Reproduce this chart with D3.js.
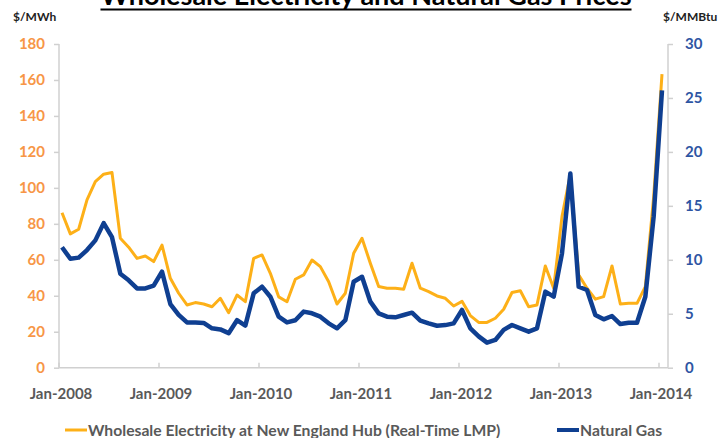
<!DOCTYPE html>
<html>
<head>
<meta charset="utf-8">
<script src="https://cdn.jsdelivr.net/npm/d3@7"></script>
<style>
  body { margin: 0; background: #fff; }
  svg { display: block; font-family: Lato, "Open Sans", sans-serif; }
</style>
</head>
<body>
<script>
// monthly values, Jan-2008 .. Jan-2014
var electricity = [86.2, 74.4, 77, 93.3, 103.5, 107.6, 108.5, 72, 67, 60.8, 62.1, 59,
  68.2, 49.7, 41.4, 34.9, 36.2, 35.4, 33.9, 38.6, 30.6, 40.4, 36.7,
  60.8, 62.7, 52.5, 39.4, 36.7, 49.2, 51.6, 59.9, 56.2, 47.8, 35.4, 41.4,
  63.6, 72.0, 58.1, 45.1, 44.2, 44.2, 43.6, 58.1, 44.2, 42.3, 39.9, 38.6, 34.3,
  36.9, 29, 25.2, 25.2, 27.5, 32.5, 41.8, 42.8, 33.9, 34.9, 56.6, 44.2, 84, 107.5,
  51.6, 44.2, 38.1, 39.5, 56.6, 35.4, 35.8, 35.8, 45.1, 95, 163.3]
var gas = [11.16, 10.1, 10.2, 10.9, 11.8, 13.4, 12.1, 8.7, 8.1, 7.35, 7.35, 7.6,
  8.9, 5.9, 4.9, 4.2, 4.2, 4.15, 3.65, 3.55, 3.2, 4.4, 3.9,
  6.89, 7.51, 6.58, 4.73, 4.2, 4.4, 5.2, 5.04, 4.73, 4.11, 3.65, 4.4,
  7.97, 8.43, 6.12, 5.04, 4.73, 4.67, 4.88, 5.1, 4.36, 4.11, 3.89, 3.95, 4.11,
  5.35, 3.65, 2.9, 2.32, 2.57, 3.5, 3.96, 3.65, 3.34, 3.65, 7.05, 6.58, 10.6, 18.0,
  7.5, 7.2, 4.88, 4.48, 4.79, 4.05, 4.17, 4.17, 6.58, 14.0, 25.7]
var yearLabels = ["Jan-2008", "Jan-2009", "Jan-2010", "Jan-2011", "Jan-2012", "Jan-2013", "Jan-2014"]
var leftTicks = [0, 20, 40, 60, 80, 100, 120, 140, 160, 180]
var rightTicks = [0, 5, 10, 15, 20, 25, 30]
var seriesNames = ["Wholesale Electricity at New England Hub (Real-Time LMP)", "Natural Gas"]

var width = 725, height = 438
var orange = "#FDB018", blue = "#0F3F91"
var axisGrey = "#D0D0D0"

var svg = d3.select("body").append("svg")
  .attr("width", width)
  .attr("height", height)

var plot = { left: 59, right: 668, top: 44, bottom: 367.7 }

var x = d3.scaleLinear().domain([0, 72]).range([62, 662])
var yL = d3.scaleLinear().domain([0, 180]).range([plot.bottom, plot.top])
var yR = d3.scaleLinear().domain([0, 30]).range([plot.bottom, plot.top])

// title (its top is cut off in the original too)
var title = svg.append("text")
  .attr("x", 366)
  .attr("y", 5)
  .attr("text-anchor", "middle")
  .attr("font-size", 27)
  .attr("font-weight", "bold")
  .attr("fill", "#000")
  .text("Wholesale Electricity and Natural Gas Prices")
var tb = title.node().getBBox()
svg.append("rect")
  .attr("x", tb.x).attr("y", 8.5)
  .attr("width", tb.width).attr("height", 2)
  .attr("fill", "#000")

// unit labels
svg.append("text").attr("x", 13).attr("y", 21)
  .attr("font-size", 12).attr("font-weight", "bold").attr("fill", "#222")
  .text("$/MWh")
svg.append("text").attr("x", 663).attr("y", 21)
  .attr("font-size", 12).attr("font-weight", "bold").attr("fill", "#222")
  .text("$/MMBtu")

// left axis
var gL = svg.append("g")
  .attr("transform", "translate(" + plot.left + ",0)")
  .call(d3.axisLeft(yL).tickValues(leftTicks).tickSize(5).tickPadding(9))
gL.selectAll("path, line").attr("stroke", axisGrey).attr("stroke-width", 1.5)
gL.select("path").attr("d", "M0," + plot.top + "V" + plot.bottom)
gL.selectAll("text")
  .attr("fill", "#F79646").attr("font-size", 15).attr("font-weight", "bold")
  .attr("font-family", "Lato, sans-serif")

// right axis
var gR = svg.append("g")
  .attr("transform", "translate(" + plot.right + ",0)")
  .call(d3.axisRight(yR).tickValues(rightTicks).tickSize(5).tickPadding(12))
gR.selectAll("path, line").attr("stroke", axisGrey).attr("stroke-width", 1.5)
gR.select("path").attr("d", "M0," + plot.top + "V" + plot.bottom)
gR.selectAll("text")
  .attr("fill", "#2E55A3").attr("font-size", 15).attr("font-weight", "bold")
  .attr("font-family", "Lato, sans-serif")

// x axis: ticks on year boundaries, labels centred on January
var gX = svg.append("g")
svg.append("line")
  .attr("x1", plot.left).attr("x2", plot.right)
  .attr("y1", plot.bottom).attr("y2", plot.bottom)
  .attr("stroke", axisGrey).attr("stroke-width", 1.5)
gX.selectAll("line.tick")
  .data(yearLabels)
  .enter().append("line")
  .attr("class", "tick")
  .attr("x1", function (d, i) { return x(i * 12 - 0.36) })
  .attr("x2", function (d, i) { return x(i * 12 - 0.36) })
  .attr("y1", plot.bottom - 5)
  .attr("y2", plot.bottom)
  .attr("stroke", axisGrey).attr("stroke-width", 1.5)
gX.selectAll("text")
  .data(yearLabels)
  .enter().append("text")
  .attr("x", function (d, i) { return x(i * 12) - 1 })
  .attr("y", 399)
  .attr("text-anchor", "middle")
  .attr("font-size", 15)
  .attr("font-weight", "bold")
  .attr("fill", "#595959")
  .text(function (d) { return d })

// lines
var lineE = d3.line().x(function (d, i) { return x(i) }).y(function (d) { return yL(d) })
var lineG = d3.line().x(function (d, i) { return x(i) }).y(function (d) { return yR(d) })

svg.append("path")
  .datum(electricity)
  .attr("d", lineE)
  .attr("fill", "none")
  .attr("stroke", orange)
  .attr("stroke-width", 3)
  .attr("stroke-linejoin", "round")

svg.append("path")
  .datum(gas)
  .attr("d", lineG)
  .attr("fill", "none")
  .attr("stroke", blue)
  .attr("stroke-width", 4.5)
  .attr("stroke-linejoin", "round")

// legend
var legend = [
  { name: seriesNames[0], color: orange, x: 65, w: 3 },
  { name: seriesNames[1], color: blue, x: 557, w: 4 }
]
var lg = svg.selectAll("g.legend")
  .data(legend)
  .enter().append("g")
  .attr("class", "legend")
  .attr("transform", function (d) { return "translate(" + d.x + ",430)" })
lg.append("line")
  .attr("x1", 0).attr("x2", 22)
  .attr("stroke", function (d) { return d.color })
  .attr("stroke-width", function (d) { return d.w })
lg.append("text")
  .attr("x", 23).attr("y", 5.5)
  .attr("font-size", 15.7)
  .attr("font-weight", "bold")
  .attr("fill", "#595959")
  .text(function (d) { return d.name })
</script>
</body>
</html>
